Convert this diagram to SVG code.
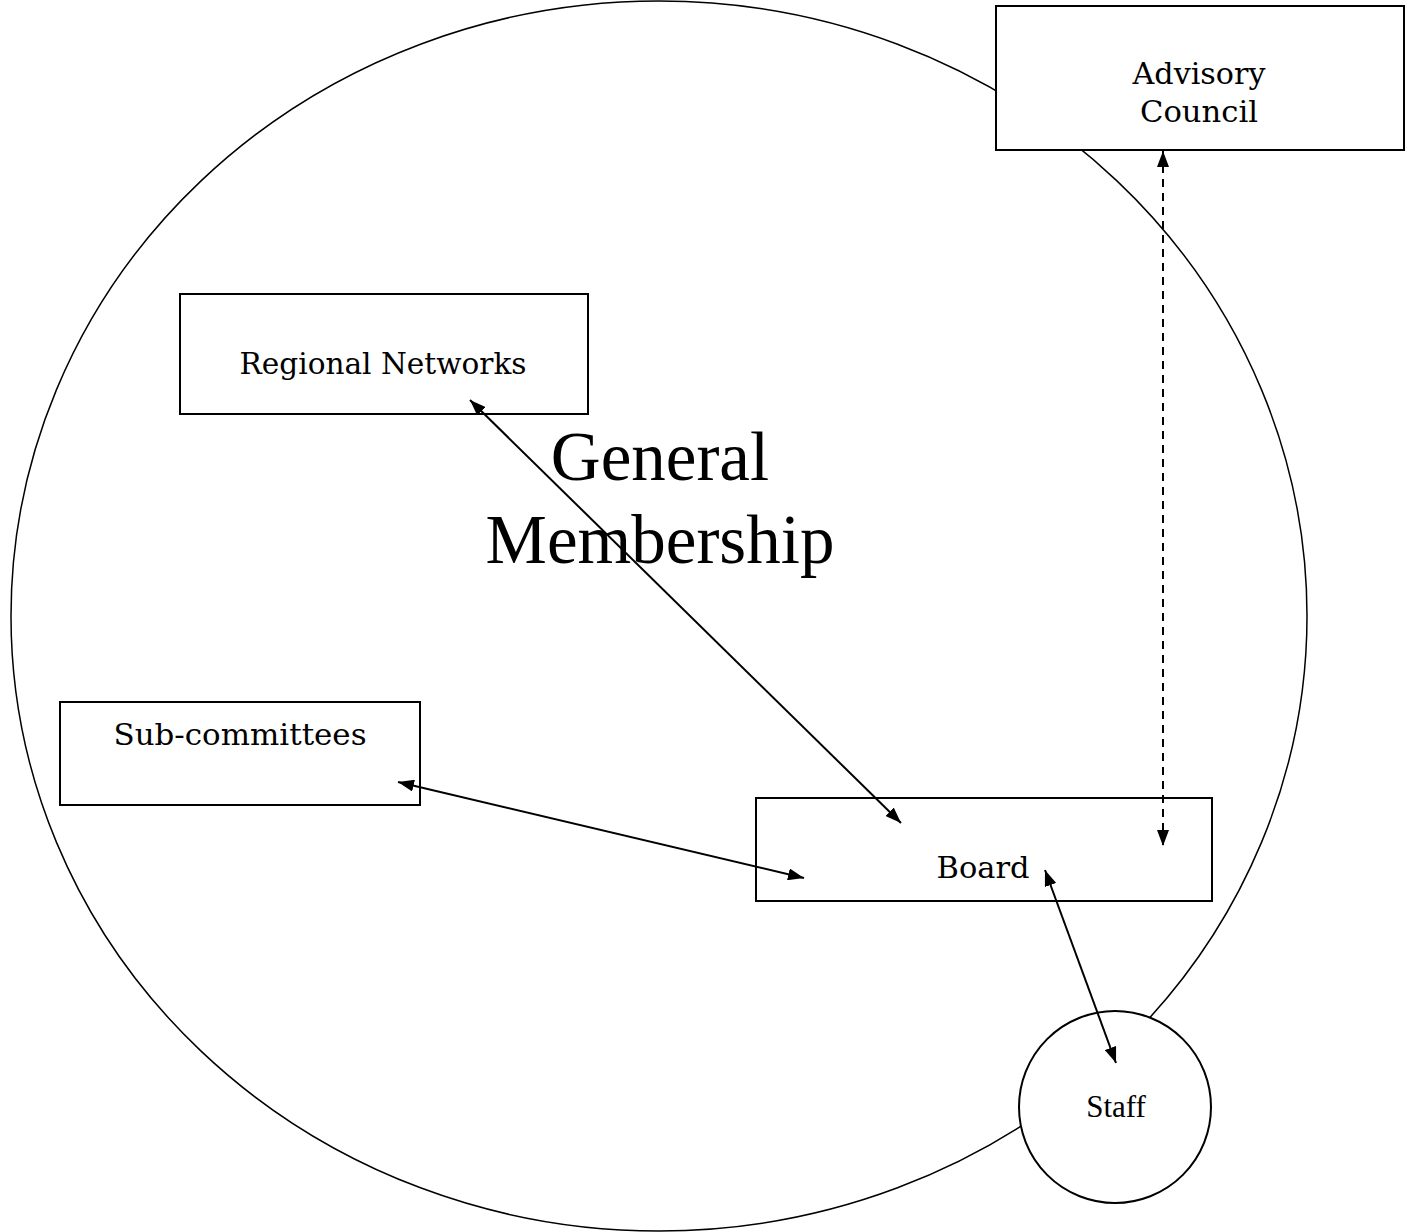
<svg xmlns="http://www.w3.org/2000/svg" width="1413" height="1232" viewBox="0 0 1413 1232">
<style>
.box{fill:#fff;stroke:#000;stroke-width:2}
.lbl{font-family:"DejaVu Serif","Liberation Serif",serif;font-size:29px;fill:#000;text-anchor:middle}
.tms{font-family:"Liberation Serif",serif;fill:#000;text-anchor:middle}
.con{stroke:#000;stroke-width:2;fill:none}
</style>
<defs>
<marker id="ah" viewBox="0 0 16 12" refX="16" refY="6" markerWidth="16" markerHeight="12" markerUnits="userSpaceOnUse" orient="auto-start-reverse">
<path d="M0,0 L16,6 L0,12 Z" fill="#000"/>
</marker>
</defs>
<rect width="1413" height="1232" fill="#fff"/>
<g id="general-membership">
<ellipse cx="659" cy="616" rx="648" ry="615" fill="none" stroke="#000" stroke-width="1.5"/>
<text class="tms" x="660" y="480" font-size="69">General</text>
<text class="tms" x="660" y="563" font-size="69">Membership</text>
</g>
<g id="advisory-council">
<rect class="box" x="996" y="6" width="408" height="144"/>
<text class="lbl" x="1199" y="84" textLength="133" lengthAdjust="spacingAndGlyphs">Advisory</text>
<text class="lbl" x="1199" y="122" textLength="118" lengthAdjust="spacingAndGlyphs">Council</text>
</g>
<g id="regional-networks">
<rect class="box" x="180" y="294" width="408" height="120"/>
<text class="lbl" x="383" y="374" textLength="287" lengthAdjust="spacingAndGlyphs">Regional Networks</text>
</g>
<g id="sub-committees">
<rect class="box" x="60" y="702" width="360" height="103"/>
<text class="lbl" x="240" y="745" textLength="253" lengthAdjust="spacingAndGlyphs">Sub-committees</text>
</g>
<g id="board">
<rect class="box" x="756" y="798" width="456" height="103"/>
<text class="lbl" x="983" y="878" textLength="93" lengthAdjust="spacingAndGlyphs">Board</text>
</g>
<g id="staff">
<circle cx="1115" cy="1107" r="96" fill="#fff" stroke="#000" stroke-width="2"/>
<text class="tms" x="1116" y="1117" font-size="31">Staff</text>
</g>
<g id="connectors">
<line class="con" x1="470" y1="400" x2="901" y2="823" marker-start="url(#ah)" marker-end="url(#ah)"/>
<line class="con" x1="398" y1="782" x2="804" y2="878" marker-start="url(#ah)" marker-end="url(#ah)"/>
<line class="con" x1="1163" y1="151" x2="1163" y2="846" stroke-dasharray="8,6" marker-start="url(#ah)" marker-end="url(#ah)"/>
<line class="con" x1="1045" y1="870" x2="1116" y2="1063" marker-start="url(#ah)" marker-end="url(#ah)"/>
</g>
</svg>
